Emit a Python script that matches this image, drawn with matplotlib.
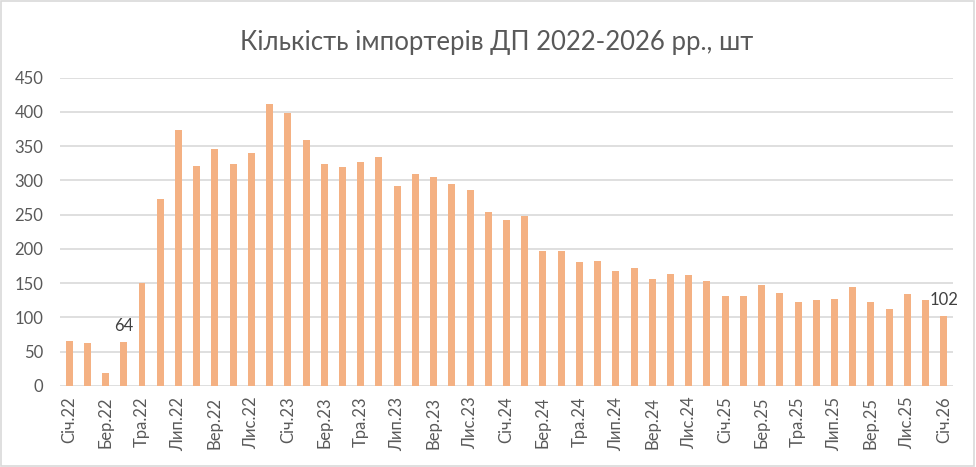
import matplotlib
matplotlib.use("Agg")
import matplotlib.pyplot as plt
from matplotlib.patches import Rectangle

months = ["Січ", "Лют", "Бер", "Кві", "Тра", "Чер", "Лип", "Сер", "Вер", "Жов", "Лис", "Гру"]
years = [22, 23, 24, 25, 26]
categories = [f"{m}.{y}" for y in years for m in months][:49]

values = [65, 62, 18, 64, 150, 273, 374, 321, 346, 324, 340, 412,
          398, 359, 324, 320, 327, 334, 292, 309, 305, 295, 286, 254,
          242, 248, 197, 197, 181, 182, 168, 172, 156, 163, 162, 153,
          131, 131, 147, 135, 122, 125, 127, 144, 122, 112, 134, 125,
          102]
labeled = {3: "64", 48: "102"}

plt.rcParams['font.family'] = ['Lato', 'DejaVu Sans']
fig = plt.figure(figsize=(9.76, 4.67), dpi=100)
ax = fig.add_axes([0.0615, 0.174, 0.9149, 0.6596])

x = list(range(len(values)))
ax.bar(x, values, width=0.38, color="#F4B183", zorder=3)
ax.set_xlim(-0.5, len(values) - 0.5)
ax.set_ylim(0, 450)
ax.set_yticks(range(0, 451, 50))
ax.yaxis.grid(True, color="#D9D9D9", linewidth=1.2, zorder=0)
for s in ax.spines.values():
    s.set_visible(False)
ax.tick_params(axis="both", length=0, colors="#595959", labelsize=12)
ax.tick_params(axis="y", pad=12)
ax.tick_params(axis="x", pad=8)
ax.set_xticks(x[::2])
ax.set_xticklabels(categories[::2], rotation=90)

for i, t in labeled.items():
    ax.annotate(t, (i, values[i]), xytext=(0, 6), textcoords="offset points",
                ha="center", va="bottom", fontsize=12, color="#404040")

fig.text(0.509, 0.91, "Кількість імпортерів ДП 2022-2026 рр., шт",
         ha="center", va="center", fontsize=18.5, color="#595959")

fig.patches.append(Rectangle((0.001, 0.002), 0.997, 0.995, transform=fig.transFigure,
                             fill=False, edgecolor="#D9D9D9", linewidth=1.2))
fig.savefig("out.png", dpi=100)
